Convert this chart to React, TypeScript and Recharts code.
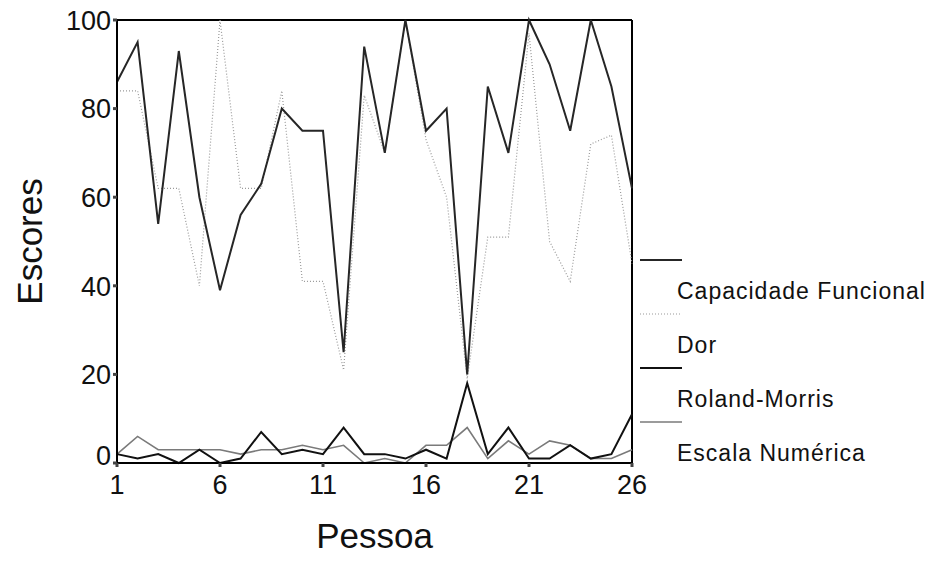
import { Label, Line, LineChart, ReferenceLine, XAxis, YAxis } from "recharts";

const pessoa = [1, 2, 3, 4, 5, 6, 7, 8, 9, 10, 11, 12, 13, 14, 15, 16, 17, 18, 19, 20, 21, 22, 23, 24, 25, 26];
const capacidadeFuncional = [86, 95, 54, 93, 60, 39, 56, 63, 80, 75, 75, 25, 94, 70, 100, 75, 80, 20, 85, 70, 100, 90, 75, 100, 85, 62];
const dor = [84, 84, 62, 62, 40, 100, 62, 62, 84, 41, 41, 21, 83, 70, 100, 73, 60, 19, 51, 51, 97, 50, 41, 72, 74, 45];
const rolandMorris = [2, 1, 2, 0, 3, 0, 1, 7, 2, 3, 2, 8, 2, 2, 1, 3, 1, 18, 2, 8, 1, 1, 4, 1, 2, 11];
const escalaNumerica = [2, 6, 3, 3, 3, 3, 2, 3, 3, 4, 3, 4, 0, 1, 0, 4, 4, 8, 1, 5, 2, 5, 4, 1, 1, 3];

const xTicks = [1, 6, 11, 16, 21, 26];
const yTicks = [0, 20, 40, 60, 80, 100];

const FONT = '"Liberation Sans", Arial, Helvetica, sans-serif';

// legend order
const SERIES = [
  { key: "cf", name: "Capacidade Funcional", color: "#262626", width: 2, dash: undefined },
  { key: "dor", name: "Dor", color: "#9a9a9a", width: 1.2, dash: "1 2" },
  { key: "rm", name: "Roland-Morris", color: "#111111", width: 2, dash: undefined },
  { key: "en", name: "Escala Numérica", color: "#7a7a7a", width: 1.6, dash: undefined },
];
// draw order (dotted one underneath)
const DRAW_ORDER = ["dor", "cf", "en", "rm"];

const data = pessoa.map((p, i) => ({
  pessoa: p,
  cf: capacidadeFuncional[i],
  dor: dor[i],
  rm: rolandMorris[i],
  en: escalaNumerica[i],
}));

function YTick({ x, y, payload }: any) {
  const shift = payload.value === 0 ? -8 : 0;
  return (
    <text x={x} y={y + shift} dy="0.36em" textAnchor="end" fontSize={27} fontFamily={FONT} fill="#111">
      {payload.value}
    </text>
  );
}

function XTick({ x, y, payload }: any) {
  return (
    <text x={x} y={y + 25} textAnchor="middle" fontSize={27} fontFamily={FONT} fill="#111">
      {payload.value}
    </text>
  );
}

function Legenda() {
  return (
    <div style={{ position: "absolute", left: 0, top: 0, fontFamily: FONT }}>
      {SERIES.map((s, i) => {
        const top = 260 + i * 54;
        return (
          <div key={s.key}>
            <svg width={44} height={4} style={{ position: "absolute", left: 640, top: top - 2 }}>
              <line x1={0} y1={2} x2={42} y2={2} stroke={s.color} strokeWidth={s.width} strokeDasharray={s.dash} />
            </svg>
            <div
              style={{
                position: "absolute",
                left: 677,
                top: top + 31 - 11.5,
                fontSize: 23,
                lineHeight: "23px",
                letterSpacing: 1,
                whiteSpace: "nowrap",
                color: "#111",
              }}
            >
              {s.name}
            </div>
          </div>
        );
      })}
    </div>
  );
}

export default function App() {
  return (
    <div style={{ position: "relative", width: 927, height: 564, overflow: "hidden", background: "#fff" }}>
      <style>{`body{margin:0}`}</style>
      <LineChart width={927} height={564} data={data} margin={{ top: 20, right: 295, bottom: 0, left: 0 }}>
        <XAxis
          dataKey="pessoa"
          type="number"
          domain={[1, 26]}
          ticks={xTicks}
          height={101}
          axisLine={{ stroke: "#000", strokeWidth: 2 }}
          tickLine={{ stroke: "#444", strokeWidth: 3 }}
          tickSize={4}
          tick={<XTick />}
          interval={0}
        >
          <Label
            content={({ viewBox }: any) => (
              <text
                x={viewBox.x + viewBox.width / 2}
                y={548}
                textAnchor="middle"
                fontSize={35}
                fontFamily={FONT}
                fill="#111"
              >
                Pessoa
              </text>
            )}
          />
        </XAxis>
        <YAxis
          type="number"
          domain={[0, 100]}
          ticks={yTicks}
          width={117}
          axisLine={{ stroke: "#000", strokeWidth: 2 }}
          tickLine={{ stroke: "#444", strokeWidth: 3 }}
          tickSize={4}
          tick={<YTick />}
          interval={0}
        >
          <Label
            content={({ viewBox }: any) => {
              const cy = viewBox.y + viewBox.height / 2;
              return (
                <text
                  x={42}
                  y={cy}
                  transform={`rotate(-90, 42, ${cy})`}
                  textAnchor="middle"
                  fontSize={35}
                  fontFamily={FONT}
                  fill="#111"
                >
                  Escores
                </text>
              );
            }}
          />
        </YAxis>
        <ReferenceLine y={100} stroke="#000" strokeWidth={2} />
        <ReferenceLine x={26} stroke="#000" strokeWidth={2} />
        {DRAW_ORDER.map((k) => {
          const s = SERIES.find((e) => e.key === k)!;
          return (
            <Line
              key={k}
              type="linear"
              dataKey={k}
              name={s.name}
              stroke={s.color}
              strokeWidth={s.width}
              strokeDasharray={s.dash}
              dot={false}
              activeDot={false}
              isAnimationActive={false}
            />
          );
        })}
      </LineChart>
      <Legenda />
    </div>
  );
}
